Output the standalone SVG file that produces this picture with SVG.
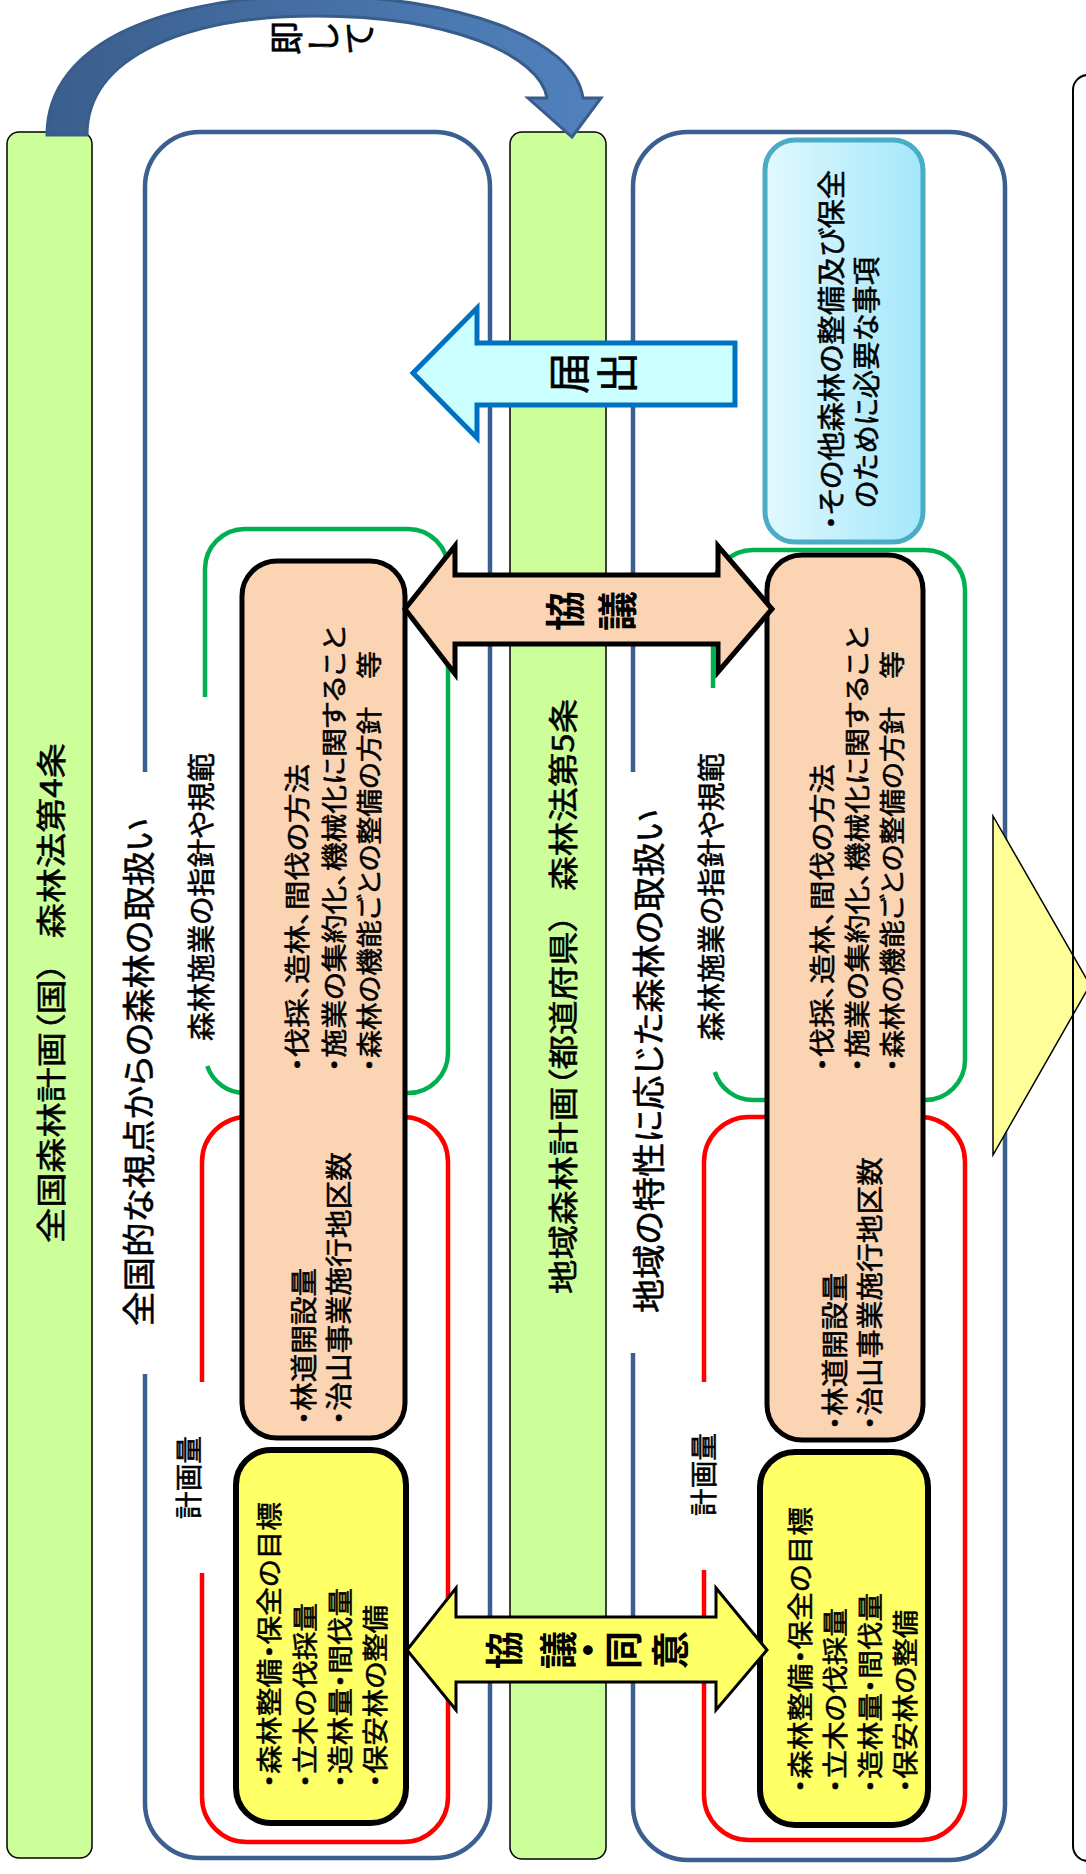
<svg xmlns="http://www.w3.org/2000/svg" width="1086" height="1874" viewBox="0 0 1086 1874">
<style>
text { font-family: "Noto Sans CJK JP", "Noto Sans CJK SC", sans-serif; fill:#000; font-feature-settings: "palt"; }
.v { dominant-baseline: central; stroke:#000; stroke-width:0.55; }
.c { dominant-baseline: central; text-anchor: middle; }
.n { stroke:#000; stroke-width:0.6; }
.b { font-weight: bold; }
.pre { white-space: pre; }
.bar { fill:#CCFF99; stroke:#000; stroke-width:1.5; }
.blue { fill:none; stroke:#3B5F8E; stroke-width:4.5; }
.green { fill:none; stroke:#00B050; stroke-width:4.5; }
.red { fill:none; stroke:#FF0000; stroke-width:4.5; }
.peach { fill:#FBD4B4; stroke:#000; stroke-width:5; }
.yel { fill:#FFFF66; stroke:#000; stroke-width:6; }
</style>
<defs>
<linearGradient id="arcg" x1="40" y1="0" x2="600" y2="0" gradientUnits="userSpaceOnUse">
<stop offset="0" stop-color="#3A5E8C"/><stop offset="1" stop-color="#5182BE"/>
</linearGradient>
<linearGradient id="lbg" x1="0" y1="0" x2="1" y2="0">
<stop offset="0" stop-color="#E2F8FE"/><stop offset="1" stop-color="#A3E7FA"/>
</linearGradient>
</defs>

<g id="national-bar">
<rect class="bar" x="7" y="132" width="85" height="1726" rx="12"/>
<text class="v pre" transform="translate(49 1243) rotate(-90)" font-size="30" textLength="500" lengthAdjust="spacingAndGlyphs">全国森林計画（国）   森林法第4条</text>
</g>

<g id="regional-bar">
<rect class="bar" x="510" y="132" width="96" height="1727" rx="12"/>
<text class="v pre" transform="translate(561 1294) rotate(-90)" font-size="30" textLength="595" lengthAdjust="spacingAndGlyphs">地域森林計画（都道府県）   森林法第5条</text>
</g>

<g id="national-frame">
<path class="blue" d="M 145 1374 V 1803 A 55 55 0 0 0 200 1858 H 435 A 55 55 0 0 0 490 1803 V 187 A 55 55 0 0 0 435 132 H 200 A 55 55 0 0 0 145 187 V 772"/>
<text class="v" transform="translate(137 1326) rotate(-90)" font-size="33" textLength="507" lengthAdjust="spacingAndGlyphs">全国的な視点からの森林の取扱い</text>
</g>

<g id="regional-frame">
<path class="blue" d="M 633 1353 V 1805 A 55 55 0 0 0 688 1860 H 950 A 55 55 0 0 0 1005 1805 V 187 A 55 55 0 0 0 950 132 H 688 A 55 55 0 0 0 633 187 V 772"/>
<text class="v" transform="translate(647 1313) rotate(-90)" font-size="33" textLength="503" lengthAdjust="spacingAndGlyphs">地域の特性に応じた森林の取扱い</text>
</g>

<g id="national-guideline-bracket">
<path class="green" d="M 207.2 1066 A 40 40 0 0 0 245 1093 H 408 A 40 40 0 0 0 448 1053 V 569 A 40 40 0 0 0 408 529 H 245 A 40 40 0 0 0 205 569 V 697"/>
<text class="v" transform="translate(200 1041) rotate(-90)" font-size="28" textLength="288" lengthAdjust="spacingAndGlyphs">森林施業の指針や規範</text>
</g>

<g id="regional-guideline-bracket">
<path class="green" d="M 714.8 1072 A 40 40 0 0 0 753 1100 H 925 A 40 40 0 0 0 965 1060 V 590 A 40 40 0 0 0 925 550 H 753 A 40 40 0 0 0 713 590 V 688"/>
<text class="v" transform="translate(710 1041) rotate(-90)" font-size="28" textLength="288" lengthAdjust="spacingAndGlyphs">森林施業の指針や規範</text>
</g>

<g id="national-plan-bracket">
<path class="red" d="M 202 1573 V 1797 A 45 45 0 0 0 247 1842 H 403 A 45 45 0 0 0 448 1797 V 1162 A 45 45 0 0 0 403 1117 H 247 A 45 45 0 0 0 202 1162 V 1382"/>
<text class="v" transform="translate(187 1519) rotate(-90)" font-size="27" textLength="83" lengthAdjust="spacingAndGlyphs">計画量</text>
</g>

<g id="regional-plan-bracket">
<path class="red" d="M 704 1570 V 1795 A 45 45 0 0 0 749 1840 H 920 A 45 45 0 0 0 965 1795 V 1162 A 45 45 0 0 0 920 1117 H 749 A 45 45 0 0 0 704 1162 V 1382"/>
<text class="v" transform="translate(702 1516) rotate(-90)" font-size="27" textLength="83" lengthAdjust="spacingAndGlyphs">計画量</text>
</g>

<g id="national-policy">
<rect class="peach" x="242" y="561" width="163" height="877" rx="35"/>
<text class="v" transform="translate(295 1072) rotate(-90)" font-size="26" textLength="308" lengthAdjust="spacingAndGlyphs">・伐採、造林、間伐の方法</text>
<text class="v" transform="translate(332 1072) rotate(-90)" font-size="26" textLength="446" lengthAdjust="spacingAndGlyphs">・施業の集約化、機械化に関すること</text>
<text class="v" transform="translate(367 1072) rotate(-90)" font-size="26" textLength="421" lengthAdjust="spacingAndGlyphs">・森林の機能ごとの整備の方針　等</text>
<text class="v" transform="translate(302 1425) rotate(-90)" font-size="27" textLength="157" lengthAdjust="spacingAndGlyphs">・林道開設量</text>
<text class="v" transform="translate(337 1425) rotate(-90)" font-size="27" textLength="273" lengthAdjust="spacingAndGlyphs">・治山事業施行地区数</text>
</g>

<g id="regional-policy">
<rect class="peach" x="767" y="555" width="156" height="885" rx="35"/>
<text class="v" transform="translate(820 1072) rotate(-90)" font-size="26" textLength="308" lengthAdjust="spacingAndGlyphs">・伐採、造林、間伐の方法</text>
<text class="v" transform="translate(855 1072) rotate(-90)" font-size="26" textLength="446" lengthAdjust="spacingAndGlyphs">・施業の集約化、機械化に関すること</text>
<text class="v" transform="translate(890 1072) rotate(-90)" font-size="26" textLength="421" lengthAdjust="spacingAndGlyphs">・森林の機能ごとの整備の方針　等</text>
<text class="v" transform="translate(833 1430) rotate(-90)" font-size="27" textLength="157" lengthAdjust="spacingAndGlyphs">・林道開設量</text>
<text class="v" transform="translate(868 1430) rotate(-90)" font-size="27" textLength="273" lengthAdjust="spacingAndGlyphs">・治山事業施行地区数</text>
</g>

<g id="national-targets">
<rect class="yel" x="236" y="1450" width="170" height="373" rx="35"/>
<text class="v" transform="translate(267 1788) rotate(-90)" font-size="26" textLength="286" lengthAdjust="spacingAndGlyphs">・森林整備・保全の目標</text>
<text class="v" transform="translate(303 1788) rotate(-90)" font-size="26" textLength="185" lengthAdjust="spacingAndGlyphs">・立木の伐採量</text>
<text class="v" transform="translate(338 1788) rotate(-90)" font-size="26" textLength="200" lengthAdjust="spacingAndGlyphs">・造林量・間伐量</text>
<text class="v" transform="translate(373 1788) rotate(-90)" font-size="26" textLength="183" lengthAdjust="spacingAndGlyphs">・保安林の整備</text>
</g>

<g id="regional-targets">
<rect class="yel" x="760" y="1452" width="168" height="373" rx="35"/>
<text class="v" transform="translate(798 1793) rotate(-90)" font-size="26" textLength="286" lengthAdjust="spacingAndGlyphs">・森林整備・保全の目標</text>
<text class="v" transform="translate(833 1793) rotate(-90)" font-size="26" textLength="185" lengthAdjust="spacingAndGlyphs">・立木の伐採量</text>
<text class="v" transform="translate(868 1793) rotate(-90)" font-size="26" textLength="200" lengthAdjust="spacingAndGlyphs">・造林量・間伐量</text>
<text class="v" transform="translate(903 1793) rotate(-90)" font-size="26" textLength="183" lengthAdjust="spacingAndGlyphs">・保安林の整備</text>
</g>

<g id="other-matters">
<rect x="765" y="140" width="158" height="402" rx="30" fill="url(#lbg)" stroke="#4BACC6" stroke-width="5"/>
<text class="v" transform="translate(830 530) rotate(-90)" font-size="28" textLength="360" lengthAdjust="spacingAndGlyphs">・その他森林の整備及び保全</text>
<text class="v" transform="translate(865 508) rotate(-90)" font-size="28" textLength="251" lengthAdjust="spacingAndGlyphs">のために必要な事項</text>
</g>

<g id="next-step">
<path d="M 993 816 L 1090 985 L 993 1155 Z" fill="#FFFF99" stroke="#000" stroke-width="1.5"/>
</g>

<g id="outer-frame">
<rect x="1073" y="75" width="60" height="1786" rx="15" fill="none" stroke="#000" stroke-width="2"/>
</g>

<g id="connectors">
<g id="sokushite">
<path d="M 47 135 C 47 40 170 -4 315 -4 C 460 -4 575 40 583 98 L 601 98 L 572 137 L 528 98 L 547 98 C 540 55 450 16 316 16 C 190 16 87 55 87 135 Z" fill="url(#arcg)" stroke="#385D8A" stroke-width="3"/>
<text class="c n" transform="translate(284 38) rotate(-90)" font-size="34">即</text>
<text class="c n" transform="translate(321 38) rotate(-90)" font-size="34">し</text>
<text class="c n" transform="translate(357 38) rotate(-90)" font-size="34">て</text>
</g>
<g id="todokede">
<path d="M 413 373 L 477 308 L 477 343 L 735 343 L 735 405 L 477 405 L 477 438 Z" fill="#CCFFFF" stroke="#0070C0" stroke-width="5"/>
<text class="c n" transform="translate(566 373) rotate(-90)" font-size="42">届</text>
<text class="c n" transform="translate(614 373) rotate(-90)" font-size="42">出</text>
</g>
<g id="kyogi">
<path d="M 405 609 L 455 546 L 455 575 L 718 575 L 718 546 L 772 609 L 718 672 L 718 644 L 455 644 L 455 674 Z" fill="#FBD4B4" stroke="#000" stroke-width="5"/>
<text class="c b" transform="translate(563 611) rotate(-90)" font-size="40">協</text>
<text class="c b" transform="translate(615 611) rotate(-90)" font-size="40">議</text>
</g>
<g id="kyogi-doi">
<path d="M 407 1650 L 456 1588 L 456 1617 L 716 1617 L 716 1588 L 767 1650 L 716 1710 L 716 1682 L 456 1682 L 456 1710 Z" fill="#FFFF66" stroke="#000" stroke-width="3"/>
<text class="c b" transform="translate(501 1650) rotate(-90)" font-size="38">協</text>
<text class="c b" transform="translate(555 1650) rotate(-90)" font-size="38">議</text>
<text class="c b" transform="translate(585 1650) rotate(-90)" font-size="38">・</text>
<text class="c b" transform="translate(620 1650) rotate(-90)" font-size="38">同</text>
<text class="c b" transform="translate(667 1650) rotate(-90)" font-size="38">意</text>
</g>
</g>
</svg>
